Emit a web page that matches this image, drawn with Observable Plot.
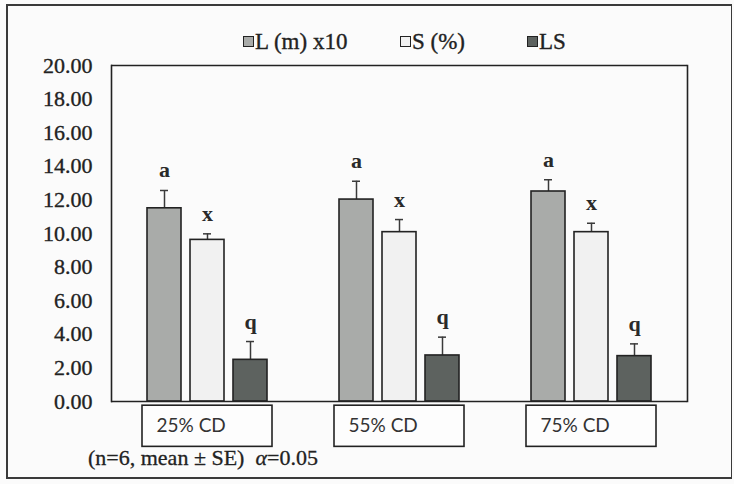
<!DOCTYPE html>
<html>
<head>
<meta charset="utf-8">
<script src="https://cdn.jsdelivr.net/npm/d3@7"></script>
<script src="https://cdn.jsdelivr.net/npm/@observablehq/plot@0.6"></script>
<style>
  body { margin: 0; background: #fff; }
  #page { position: relative; width: 734px; height: 484px; background: #fbfbfb; overflow: hidden; }
  #border { position: absolute; left: 6px; top: 4px; width: 726px; height: 475px; box-sizing: border-box; border: 2px solid #3a3a3a; border-right-width: 1px; }
  #chart { position: absolute; left: 0; top: 0; }
  #chart svg g[aria-label="y-axis tick label"] text { stroke: #222; stroke-width: 0.35px; }
  .leg { position: absolute; top: 29px; font-family: "Liberation Serif", serif; font-size: 23px; line-height: 26px; color: #222; white-space: nowrap; -webkit-text-stroke: 0.35px #222; }
  .sw { display: inline-block; width: 9px; height: 9px; border: 1.5px solid #222; margin-right: 1px; vertical-align: 2px; }
  #caption { position: absolute; left: 88px; top: 446px; font-family: "Liberation Serif", serif; font-size: 22px; line-height: 24px; color: #222; white-space: nowrap; -webkit-text-stroke: 0.3px #222; }
</style>
</head>
<body>
<div id="page">
  <div id="border"></div>
  <div id="chart"></div>
  <div id="legend"></div>
  <div id="caption">(n=6, mean ± SE)&nbsp;&nbsp;<i>α</i>=0.05</div>
</div>
<script>
const groups = ["25% CD", "55% CD", "75% CD"];
const series = ["L (m) x10", "S (%)", "LS"];
const lValues = [11.50, 12.02, 12.50];
const lSE = [1.06, 1.09, 0.70];
const sValues = [9.62, 10.08, 10.08];
const sSE = [0.36, 0.75, 0.53];
const lsValues = [2.48, 2.74, 2.70];
const lsSE = [1.09, 1.09, 0.73];
const letters = ["a", "x", "q"];
const yTicks = [0, 2, 4, 6, 8, 10, 12, 14, 16, 18, 20];
const colors = ["#a9aba9", "#f1f1f1", "#5d625f"];

const values = [lValues, sValues, lsValues];
const ses = [lSE, sSE, lsSE];
const data = groups.flatMap((g, i) => series.map((s, j) => ({
  group: g, series: s, value: values[j][i], se: ses[j][i], letter: letters[j]
})));

// legend
const legendEl = document.getElementById("legend");
const legX = [243, 400, 527];
series.forEach((s, j) => {
  const d = document.createElement("div");
  d.className = "leg";
  d.style.left = legX[j] + "px";
  d.innerHTML = `<span class="sw" style="background:${colors[j]}"></span>${s}`;
  legendEl.appendChild(d);
});

const errTop = d => d.value + d.se;

const chart = Plot.plot({
  width: 734,
  height: 484,
  marginTop: 65,
  marginBottom: 83,
  marginLeft: 111,
  marginRight: 47,
  style: { background: "transparent", fontFamily: "Liberation Serif", fontSize: "22px", color: "#222" },
  fx: { domain: groups, padding: 0, axis: null },
  x: { domain: series, paddingInner: 0.2, paddingOuter: 0.8, axis: null },
  y: { domain: [0, 20], ticks: yTicks, tickFormat: d3.format(".2f"), tickSize: 0, tickPadding: 19, label: null },
  color: { domain: series, range: colors },
  marks: [
    Plot.ruleX(data, { fx: "group", x: "series", y1: "value", y2: errTop, stroke: "#3a3a3a", strokeWidth: 1.5 }),
    Plot.tickY(data, { fx: "group", x: "series", y: errTop, insetLeft: 13, insetRight: 13, stroke: "#3a3a3a", strokeWidth: 1.5 }),
    Plot.barY(data, { fx: "group", x: "series", y: "value", fill: "series", stroke: "#222", strokeWidth: 1.6 }),
    Plot.text(data, { fx: "group", x: "series", y: errTop, text: "letter", lineAnchor: "bottom", dy: -13, fontSize: 22, fontWeight: "bold", fill: "#2a2a2a" }),
    Plot.ruleY([0, 20], { stroke: "#222", strokeWidth: 1.6 }),
    Plot.frame({ anchor: "left", facetAnchor: "left", stroke: "#222", strokeWidth: 1.6 }),
    Plot.frame({ anchor: "right", facetAnchor: "right", stroke: "#222", strokeWidth: 1.6 }),
    Plot.rect(groups, { fx: d => d, y1: -0.25, y2: -2.7, insetLeft: 31, insetRight: 31, fill: "#fdfdfd", stroke: "#222", strokeWidth: 1.6 }),
    Plot.text(groups, { fx: d => d, y: -1.45, text: d => d, frameAnchor: "left", dx: 45, textAnchor: "start", fontFamily: "Lato", fontSize: 19, fill: "#333" })
  ]
});
document.getElementById("chart").appendChild(chart);
</script>
</body>
</html>
